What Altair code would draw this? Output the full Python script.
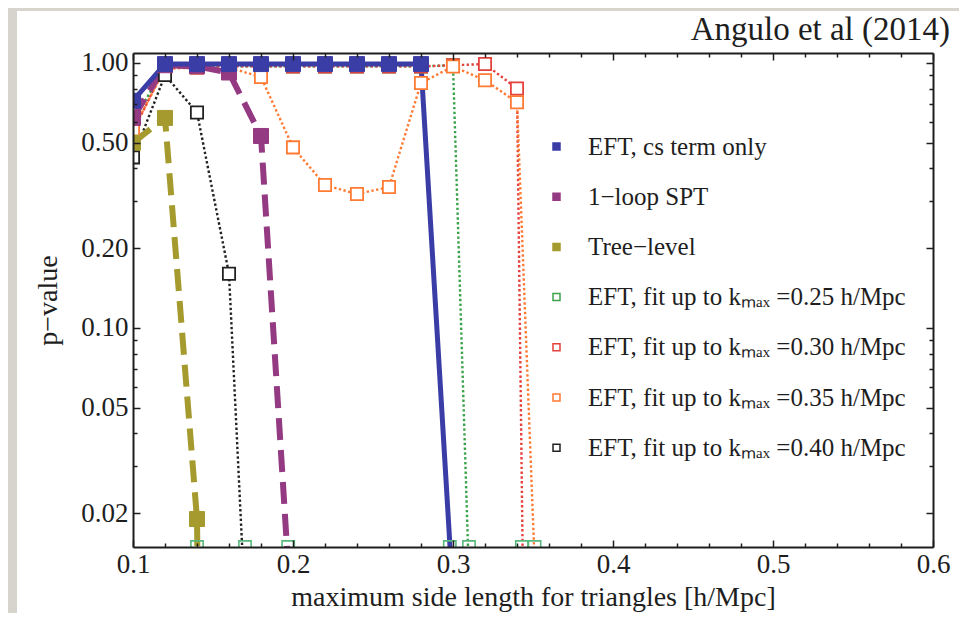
import altair as alt
import pandas as pd

# ---------------- data ----------------
series_names = [
    "EFT, cs term only",
    "1\u2212loop SPT",
    "Tree\u2212level",
    "EFT, fit up to k\u2098\u2090\u2093 =0.25 h/Mpc",
    "EFT, fit up to k\u2098\u2090\u2093 =0.30 h/Mpc",
    "EFT, fit up to k\u2098\u2090\u2093 =0.35 h/Mpc",
    "EFT, fit up to k\u2098\u2090\u2093 =0.40 h/Mpc",
]
series_colors = ["#3b3da6", "#943a82", "#a59a2e", "#3aa34a", "#e4403c", "#ff7a33", "#222222"]
series_style = ["solid", "dashed", "dashed", "dotted", "dotted", "dotted", "dotted"]

eft_cs_k = [0.10, 0.12, 0.14, 0.16, 0.18, 0.20, 0.22, 0.24, 0.26, 0.28, 0.30]
eft_cs_p = [0.72, 0.99, 0.99, 0.99, 0.99, 0.99, 0.99, 0.99, 0.99, 0.99, 0.0097]

spt_k = [0.10, 0.12, 0.14, 0.16, 0.18, 0.20]
spt_p = [0.62, 0.98, 0.97, 0.92, 0.53, 0.0065]

tree_k = [0.10, 0.12, 0.14, 0.16]
tree_p = [0.50, 0.62, 0.019, 1e-12]

fit25_k = [0.10, 0.12, 0.14, 0.16, 0.18, 0.20, 0.22, 0.24, 0.26, 0.28, 0.30, 0.32]
fit25_p = [0.60, 0.97, 0.97, 0.97, 0.97, 0.97, 0.97, 0.97, 0.97, 0.97, 0.98, 0.00013]

fit30_k = [0.10, 0.12, 0.14, 0.16, 0.18, 0.20, 0.22, 0.24, 0.26, 0.28, 0.30, 0.32, 0.34, 0.36]
fit30_p = [0.55, 0.97, 0.97, 0.97, 0.97, 0.97, 0.97, 0.97, 0.97, 0.97, 0.98, 0.99, 0.80, 1e-10]

fit35_k = [0.10, 0.12, 0.14, 0.16, 0.18, 0.20, 0.22, 0.24, 0.26, 0.28, 0.30, 0.32, 0.34, 0.36]
fit35_p = [0.56, 0.95, 0.96, 0.96, 0.885, 0.48, 0.346, 0.32, 0.34, 0.84, 0.97, 0.86, 0.71, 0.0005]

fit40_k = [0.10, 0.12, 0.14, 0.16, 0.18]
fit40_p = [0.44, 0.90, 0.65, 0.16, 0.0005]

# hollow markers sitting on the lower frame where curves leave the plot
edge_marker_k = [0.14, 0.17, 0.197, 0.298, 0.31, 0.343, 0.351]

x_major = [0.1, 0.2, 0.3, 0.4, 0.5, 0.6]
x_minor = [0.12, 0.14, 0.16, 0.18, 0.22, 0.24, 0.26, 0.28, 0.32, 0.34, 0.36, 0.38,
           0.42, 0.44, 0.46, 0.48, 0.52, 0.54, 0.56, 0.58]
y_major = [1.0, 0.5, 0.2, 0.1, 0.05, 0.02]
y_minor = [0.03, 0.04, 0.06, 0.07, 0.08, 0.09, 0.3, 0.4, 0.6, 0.7, 0.8, 0.9]

x_domain = [0.1, 0.6]
y_domain = [0.0149, 1.09]

title_text = ["Angulo et al (2014)"]

# ---------------- tables ----------------
all_k = [eft_cs_k, spt_k, tree_k, fit25_k, fit30_k, fit35_k, fit40_k]
all_p = [eft_cs_p, spt_p, tree_p, fit25_p, fit30_p, fit35_p, fit40_p]
rows = []
for name, style, ks, ps in zip(series_names, series_style, all_k, all_p):
    for k, p in zip(ks, ps):
        rows.append({"series": name, "style": style, "k": k, "p": p})
df = pd.DataFrame(rows)
draw_order = [3, 4, 5, 6, 2, 1, 0]  # fits first, blue last
order = {series_names[i]: j for j, i in enumerate(draw_order)}
df["ord"] = df["series"].map(order)
df = df.sort_values(["ord", "k"]).reset_index(drop=True)

edge_df = pd.DataFrame({"k": edge_marker_k, "p": [y_domain[0]] * len(edge_marker_k)})
dummy = pd.DataFrame({"k": [0.3], "p": [0.5]})
title_df = pd.DataFrame({"t": title_text})

FONT = "Liberation Serif"
TXT = "#1e1e1e"
GRAY = "#d7d4ce"
xs = alt.Scale(domain=x_domain, nice=False, zero=False)
ys = alt.Scale(type="log", domain=y_domain, nice=False)

color_scale = alt.Scale(domain=series_names, range=series_colors)
fill_range = series_colors[:3] + ["white"] * 4
fill_scale = alt.Scale(domain=series_names, range=fill_range)
legend = alt.Legend(orient="none", legendX=411, legendY=81, title=None, zindex=2)

# ---------------- layers ----------------
strip_left = alt.Chart(dummy).mark_rect(color=GRAY).encode(
    x=alt.value(-125), x2=alt.value(-116), y=alt.value(-45), y2=alt.value(560)
)
strip_top = alt.Chart(dummy).mark_rect(color=GRAY).encode(
    x=alt.value(-125), x2=alt.value(830), y=alt.value(-45), y2=alt.value(-42)
)

title_mark = alt.Chart(title_df).mark_text(
    font=FONT, fontSize=33, color=TXT, align="right", baseline="alphabetic"
).encode(x=alt.value(817), y=alt.value(-13), text="t:N")

main_x = alt.Axis(orient="bottom", values=x_major, format=".1f", ticks=False, grid=False,
                  domainColor=TXT, domainWidth=2, labelFont=FONT, labelFontSize=27,
                  labelColor=TXT, labelPadding=4, labelFlush=False, zindex=2,
                  title="maximum side length for triangles [h/Mpc]", titleFont=FONT,
                  titleFontSize=28, titleFontWeight="normal", titleColor=TXT, titlePadding=6)
main_y = alt.Axis(orient="left", values=y_major, format=".2f", ticks=False, grid=False,
                  domainColor=TXT, domainWidth=2, labelFont=FONT, labelFontSize=27,
                  labelColor=TXT, labelPadding=5, labelFlush=False, labelOverlap=False,
                  zindex=2, title="p\u2212value", titleFont=FONT, titleFontSize=28,
                  titleFontWeight="normal", titleColor=TXT, titlePadding=18)

line_layers = []
for i in draw_order:
    style = series_style[i]
    if style == "solid":
        mk = dict(strokeWidth=5)
    elif style == "dashed":
        mk = dict(strokeWidth=6, strokeDash=[22, 10])
    else:
        mk = dict(strokeWidth=2.4, strokeDash=[2.4, 2.4])
    first = len(line_layers) == 0
    line_layers.append(
        alt.Chart(df[df["series"] == series_names[i]]).mark_line(
            clip=True, color=series_colors[i], **mk
        ).encode(
            x=alt.X("k:Q", scale=xs, axis=main_x if first else None),
            y=alt.Y("p:Q", scale=ys, axis=main_y if first else None),
        )
    )


def points(filled, size, sw):
    sub = df[df["style"].isin(["solid", "dashed"])] if filled else df[df["style"] == "dotted"]
    return alt.Chart(sub).mark_point(shape="square", size=size, strokeWidth=sw,
                                     opacity=1, clip=True, filled=True).encode(
        x=alt.X("k:Q", scale=xs, axis=None),
        y=alt.Y("p:Q", scale=ys, axis=None),
        fill=alt.Fill("series:N", scale=fill_scale, legend=legend),
        stroke=alt.Stroke("series:N", scale=color_scale, legend=legend),
    )


pts_hollow = points(False, 150, 1.8)
pts_filled = points(True, 225, 1)

edge_pts = alt.Chart(edge_df).mark_point(shape="square", size=150, strokeWidth=1.6,
                                         color="#58b87c", opacity=1, clip=True).encode(
    x=alt.X("k:Q", scale=xs, axis=None),
    y=alt.Y("p:Q", scale=ys, axis=None),
)


def tick_layer(xvals, yvals, xo, yo, size, domain):
    common = dict(labels=False, grid=False, title=None, tickColor=TXT, tickWidth=1.5,
                  tickSize={"expr": str(-size)}, domain=domain, domainColor=TXT,
                  domainWidth=2, zindex=2)
    return alt.Chart(dummy).mark_point(opacity=0).encode(
        x=alt.X("k:Q", scale=xs, axis=alt.Axis(orient=xo, values=xvals, **common)),
        y=alt.Y("p:Q", scale=ys, axis=alt.Axis(orient=yo, values=yvals, **common)),
    )


t1 = tick_layer(x_major, y_major, "bottom", "left", 7, False)
t2 = tick_layer(x_minor, y_minor, "bottom", "left", 4, False)
t3 = tick_layer(x_major, y_major, "top", "right", 7, True)
t4 = tick_layer(x_minor, y_minor, "top", "right", 4, False)

chart = alt.layer(
    strip_left, strip_top, title_mark,
    *line_layers, pts_hollow, pts_filled, edge_pts,
    t1, t2, t3, t4,
).resolve_axis(x="independent", y="independent").properties(
    width=800,
    height=494,
    autosize=alt.AutoSizeParams(type="none"),
    padding={"left": 125, "top": 45, "right": 26, "bottom": 66},
    background="white",
).configure_view(stroke=None).configure_legend(
    labelFont=FONT, labelFontSize=25, labelColor=TXT, labelLimit=0, padding=0,
    rowPadding=24.2, symbolSize=49, symbolStrokeWidth=1.5, labelOffset=19,
    symbolType="square",
)

chart.save("out.html", embed_options={"renderer": "svg", "actions": False})
